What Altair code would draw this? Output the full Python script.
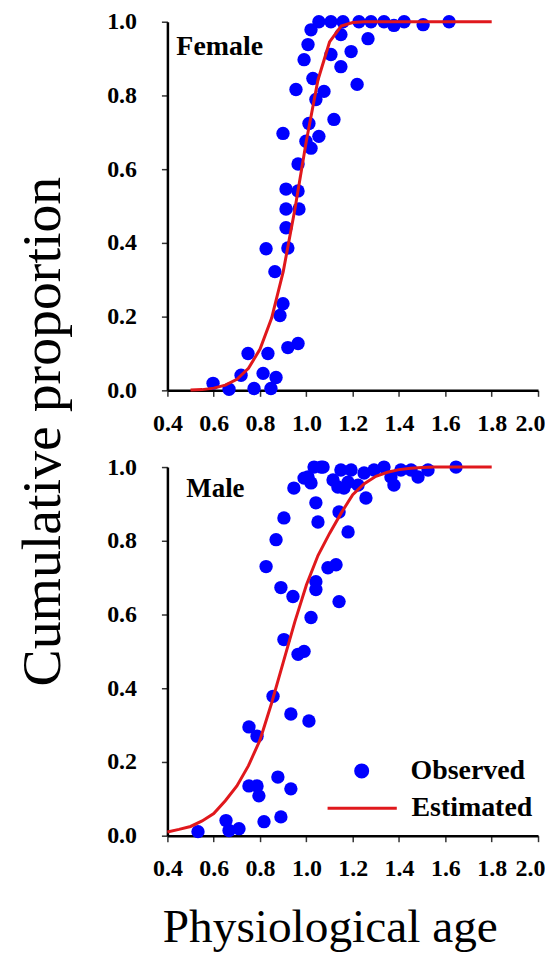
import altair as alt
import pandas as pd

# ---------------- data ----------------
female_x = [1.020, 1.054, 1.106, 1.158, 1.227, 1.279, 1.335, 1.378, 1.422, 1.504, 1.616,
            1.007, 0.990, 1.106, 1.149, 1.266, 1.193, 1.149, 1.028, 0.955, 1.076, 1.219,
            1.041, 1.119, 1.011, 0.899, 1.054, 0.998, 1.020, 0.964, 0.912, 0.964, 0.912,
            0.968, 0.912, 0.826, 0.920, 0.864, 0.899, 0.886, 0.920, 0.964, 0.748, 0.834,
            0.718, 0.813, 0.869, 0.597, 0.666, 0.774, 0.847]
female_y = [0.978, 1.000, 1.000, 1.000, 1.000, 1.000, 1.000, 0.990, 1.000, 0.992, 1.000,
            0.938, 0.897, 0.911, 0.965, 0.954, 0.919, 0.878, 0.846, 0.816, 0.811, 0.830,
            0.789, 0.735, 0.724, 0.697, 0.689, 0.676, 0.657, 0.614, 0.546, 0.541, 0.492,
            0.492, 0.441, 0.384, 0.386, 0.322, 0.235, 0.203, 0.116, 0.127, 0.100, 0.100,
            0.041, 0.046, 0.035, 0.019, 0.003, 0.005, 0.005]

male_x = [0.946, 0.990, 1.033, 1.072, 1.020, 1.115, 1.149, 1.180, 1.136, 1.162, 1.193,
          1.223, 1.249, 1.292, 1.335, 1.365, 1.378, 1.408, 1.452, 1.482, 1.525, 1.646,
          1.063, 1.007, 1.257, 1.041, 0.903, 1.050, 1.141, 0.869, 1.180, 0.826, 1.128,
          1.093, 0.890, 0.942, 1.041, 1.041, 1.141, 1.020, 0.903, 0.964, 0.990, 0.856,
          0.933, 1.011, 0.752, 0.787, 0.877, 0.752, 0.787, 0.795, 0.933, 0.653, 0.666,
          0.709, 0.817, 0.890, 0.532]
male_y = [0.943, 0.970, 1.000, 1.000, 0.957, 0.965, 0.992, 0.959, 0.946, 0.943, 0.992,
          0.951, 0.984, 0.992, 1.000, 0.973, 0.951, 0.992, 0.992, 0.973, 0.992, 1.000,
          1.000, 0.973, 0.916, 0.903, 0.862, 0.851, 0.878, 0.803, 0.824, 0.730, 0.735,
          0.727, 0.673, 0.649, 0.689, 0.668, 0.635, 0.592, 0.532, 0.492, 0.500, 0.378,
          0.330, 0.311, 0.295, 0.270, 0.159, 0.135, 0.135, 0.108, 0.127, 0.041, 0.014,
          0.019, 0.038, 0.051, 0.011]

female_curve_x = [0.50, 0.55, 0.60, 0.65, 0.70, 0.75, 0.80, 0.85, 0.90, 0.95, 1.00,
                  1.05, 1.10, 1.15, 1.20, 1.25, 1.30, 1.40, 1.50, 1.60, 1.70, 1.80]
female_curve_y = [0.001, 0.002, 0.006, 0.014, 0.030, 0.060, 0.112, 0.196, 0.322, 0.490, 0.677,
                  0.842, 0.945, 0.988, 0.998, 1.000, 1.000, 1.000, 1.000, 1.000, 1.000, 1.000]

male_curve_x = [0.40, 0.45, 0.50, 0.55, 0.60, 0.65, 0.70, 0.75, 0.80, 0.85, 0.90, 0.95,
                1.00, 1.05, 1.10, 1.15, 1.20, 1.25, 1.30, 1.35, 1.40, 1.45, 1.50, 1.55,
                1.60, 1.70, 1.80]
male_curve_y = [0.010, 0.017, 0.025, 0.040, 0.060, 0.095, 0.135, 0.190, 0.260, 0.360, 0.470, 0.580,
                0.680, 0.760, 0.820, 0.875, 0.925, 0.955, 0.975, 0.986, 0.993, 0.997, 0.999, 1.000,
                1.000, 1.000, 1.000]

x_ticks = [0.4, 0.6, 0.8, 1.0, 1.2, 1.4, 1.6, 1.8, 2.0]
y_ticks = [0.0, 0.2, 0.4, 0.6, 0.8, 1.0]
panel_names = ["Female", "Male"]
legend_labels = ["Observed", "Estimated"]

SERIF = "Liberation Serif"
BLUE = "#0000ff"
RED = "#e0181c"
W, H = 372, 370

f_obs = pd.DataFrame({"x": female_x, "y": female_y, "series": legend_labels[0]})
m_obs = pd.DataFrame({"x": male_x, "y": male_y, "series": legend_labels[0]})
f_est = pd.DataFrame({"x": female_curve_x, "y": female_curve_y, "series": legend_labels[1]})
m_est = pd.DataFrame({"x": male_curve_x, "y": male_curve_y, "series": legend_labels[1]})

xscale = alt.Scale(domain=[0.4, 2.0], nice=False, zero=False)
yscale = alt.Scale(domain=[0.0, 1.0], nice=False)

# keep the last x label ("2.0") inside the page
last_label_shift = {"condition": {"test": "datum.value >= 1.99", "value": -8}, "value": 0}


def x_enc(title):
    common = dict(values=x_ticks, format=".1f", labelFlush=False, labelOffset=last_label_shift)
    if title:
        ax = alt.Axis(title=title, titleFont=SERIF, titleFontSize=47.5,
                      titleFontWeight="normal", titleColor="black", titleX=163, titleY=106,
                      titleAlign="center", titleBaseline="alphabetic", **common)
    else:
        ax = alt.Axis(title=None, **common)
    return alt.X("x:Q", scale=xscale, axis=ax)


def y_enc(title):
    if title:
        ax = alt.Axis(values=y_ticks, format=".1f", title=title, labelFlush=False,
                      titleFont=SERIF, titleFontSize=56, titleFontWeight="normal",
                      titleColor="black", titleX=-108, titleY=411, titleAngle=-90,
                      titleAlign="center", titleBaseline="alphabetic")
    else:
        ax = alt.Axis(values=y_ticks, format=".1f", title=None, labelFlush=False)
    return alt.Y("y:Q", scale=yscale, axis=ax)


# ---------------- top panel (Female) ----------------
top_pts = alt.Chart(f_obs).mark_circle(size=180, opacity=1, color=BLUE).encode(
    x=x_enc(None), y=y_enc("Cumulative proportion"))
top_line = alt.Chart(f_est).mark_line(color=RED, strokeWidth=3).encode(x="x:Q", y="y:Q")
top_lab = alt.Chart(pd.DataFrame({"t": [panel_names[0]]})).mark_text(
    font=SERIF, fontSize=28, fontWeight="bold", align="left", baseline="alphabetic",
    color="black").encode(text="t:N", x=alt.value(9), y=alt.value(33))
top = alt.layer(top_pts, top_line, top_lab).properties(width=W, height=H)

# ---------------- bottom panel (Male) ----------------
obs_legend = alt.Legend(orient="none", legendX=181, legendY=291, title=None, padding=0,
                        symbolType="circle", symbolSize=227, symbolOpacity=1,
                        symbolStrokeWidth=0, labelFont=SERIF, labelFontSize=28,
                        labelFontWeight="bold", labelColor="black", labelOffset=35)
est_legend = alt.Legend(orient="none", legendX=159, legendY=306, title=None, padding=0,
                        symbolType="stroke", symbolSize=4826, symbolStrokeWidth=3,
                        labelFont=SERIF, labelFontSize=28, labelFontWeight="bold",
                        labelColor="black", labelOffset=13)

bot_pts = alt.Chart(m_obs).mark_circle(size=180, opacity=1).encode(
    x=x_enc("Physiological age"), y=y_enc(None),
    color=alt.Color("series:N", scale=alt.Scale(domain=[legend_labels[0]], range=[BLUE]),
                    legend=obs_legend))
bot_line = alt.Chart(m_est).mark_line(strokeWidth=3).encode(
    x="x:Q", y="y:Q",
    stroke=alt.Stroke("series:N", scale=alt.Scale(domain=[legend_labels[1]], range=[RED]),
                      legend=est_legend))
bot_lab = alt.Chart(pd.DataFrame({"t": [panel_names[1]]})).mark_text(
    font=SERIF, fontSize=27, fontWeight="bold", align="left", baseline="alphabetic",
    color="black").encode(text="t:N", x=alt.value(19), y=alt.value(30))
bottom = alt.layer(bot_pts, bot_line, bot_lab).properties(width=W, height=H)

chart = alt.vconcat(top, bottom, spacing=77, bounds="flush").resolve_scale(
    color="independent", stroke="independent"
).resolve_legend(color="independent", stroke="independent").properties(
    padding={"left": 7, "top": 0, "right": 0, "bottom": 5}
).configure_view(stroke=None).configure_axis(
    grid=False, domainColor="black", domainWidth=2.5, tickColor="#333333", tickWidth=1.5,
    tickSize=6, labelFont=SERIF, labelFontSize=24, labelFontWeight="bold",
    labelColor="black"
).configure_axisX(labelPadding=15).configure_axisY(labelPadding=25)

chart.save("out.html", embed_options={"renderer": "svg", "actions": False})
